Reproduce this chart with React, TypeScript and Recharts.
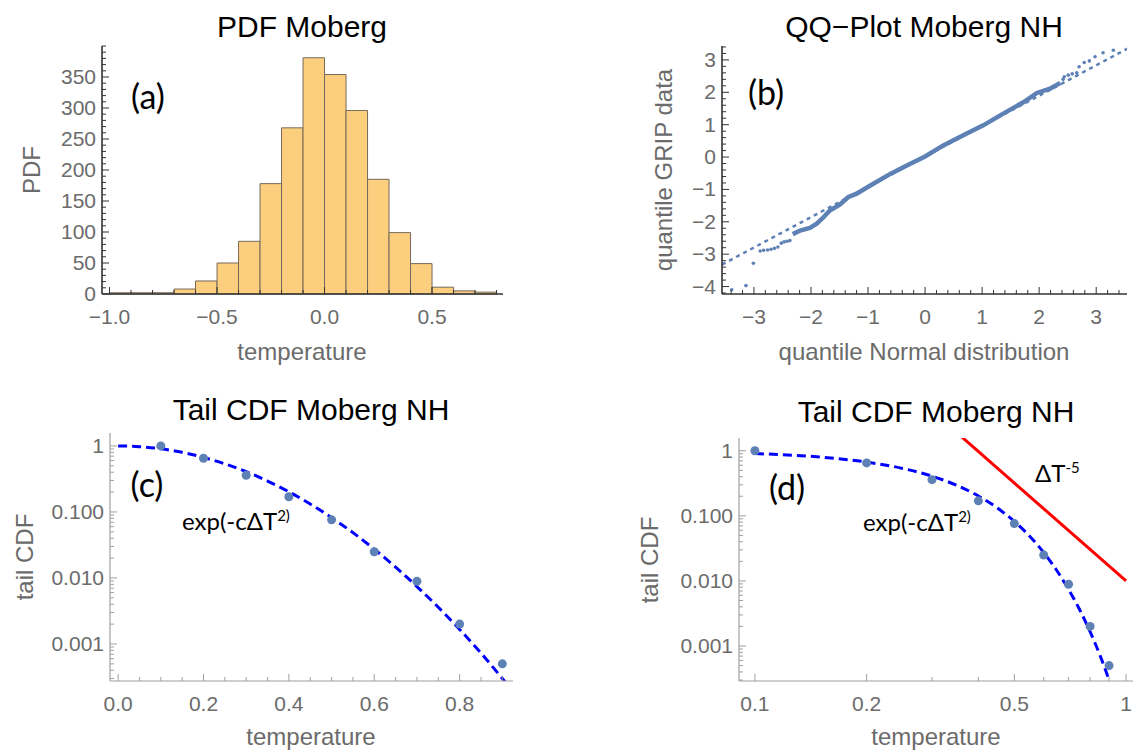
import React from "react";
import {
	ComposedChart,
	Line,
	ReferenceArea,
	Scatter,
	XAxis,
	YAxis,
} from "recharts";

// (a) histogramme : bords gauches des classes et effectifs
const binStarts = [
	-1.0, -0.9, -0.8, -0.7, -0.6, -0.5, -0.4, -0.3, -0.2, -0.1, 0.0, 0.1, 0.2,
	0.3, 0.4, 0.5, 0.6, 0.7,
];
const binCounts = [
	2, 2, 2, 8, 21, 50, 85, 178, 268, 381, 354, 296, 185, 99, 49, 11, 5, 3,
];
const binWidth = 0.1;

// (b) QQ-plot : partie dense, queues, droite de référence
const qqBodyX = [
	-2.32, -2.19, -2.02, -1.9, -1.78, -1.67, -1.49, -1.35, -1.2, -0.96, -0.61,
	-0.32, 0.0, 0.32, 0.67, 1.02, 1.37, 1.73, 1.96, 2.19, 2.37,
];
const qqBodyY = [
	-2.38, -2.27, -2.19, -2.06, -1.86, -1.65, -1.46, -1.24, -1.13, -0.88, -0.52,
	-0.26, 0.02, 0.36, 0.67, 0.98, 1.34, 1.7, 1.98, 2.11, 2.29,
];
const qqTailX = [
	-3.39, -3.14, -3.01, -2.89, -2.83, -2.76, -2.7, -2.64, -2.58, -2.52, -2.47,
	-2.42, -2.37, 2.42, 2.44, 2.51, 2.58, 2.66, 2.7, 2.79, 2.88, 2.98, 3.12, 3.3,
];
const qqTailY = [
	-4.1, -3.97, -3.28, -2.9, -2.88, -2.87, -2.85, -2.82, -2.78, -2.66, -2.62,
	-2.6, -2.58, 2.4, 2.48, 2.53, 2.57, 2.6, 2.79, 2.92, 2.97, 3.1, 3.22, 3.3,
];
const qqRefX = [-3.56, 3.56];
const qqRefY = [-3.32, 3.36];

// (c)/(d) CDF de queue
const tailT = [0.1, 0.2, 0.3, 0.4, 0.5, 0.6, 0.7, 0.8, 0.9];
const tailCdf = [1.0, 0.65, 0.36, 0.17, 0.076, 0.025, 0.0089, 0.002, 0.0005];
const fitT = [
	0, 0.05, 0.1, 0.15, 0.2, 0.25, 0.3, 0.35, 0.4, 0.45, 0.5, 0.55, 0.6, 0.65,
	0.7, 0.75, 0.8, 0.85, 0.9, 0.92,
];
const fitCdf = [
	1.0, 0.975, 0.905, 0.8, 0.67, 0.535, 0.407, 0.294, 0.202, 0.132, 0.082,
	0.0486, 0.0273, 0.0146, 0.0074, 0.0036, 0.00166, 0.00073, 0.0003, 0.00021,
];
const powT = [0.35, 1.0];
const powCdf = [1.9, 0.01];

// graduations
const aXTicks = [-1.0, -0.5, 0.0, 0.5];
const aYTicks = [0, 50, 100, 150, 200, 250, 300, 350];
const bXTicks = [-3, -2, -1, 0, 1, 2, 3];
const bYTicks = [-4, -3, -2, -1, 0, 1, 2, 3];
const cXTicks = [0.0, 0.2, 0.4, 0.6, 0.8];
const logYTicks = [0.001, 0.01, 0.1, 1];
const dXTicks = [0.1, 0.2, 0.5, 1];

const range = (a: number, b: number, s: number) => {
	const out: number[] = [];
	for (let v = a; v <= b + s / 1000; v += s) out.push(Math.round(v / s) * s);
	return out;
};
const decadeMinor = (from: number, to: number) => {
	const out: number[] = [];
	for (let e = -5; e <= 1; e++) {
		for (let k = 1; k <= 9; k++) {
			const v = parseFloat((k * Math.pow(10, e)).toPrecision(3));
			if (v >= from && v <= to) out.push(v);
		}
	}
	return out;
};

const BLUE = "#5E81B5";
const TICK_FONT = "'Liberation Sans', Arial, sans-serif";
const LABEL_GREY = "#6b6b6b";
const TICK_SIZE = 21;

const toPts = (xs: number[], ys: number[]) =>
	xs.map((x, i) => ({ x, y: ys[i] }));

const minus = (s: string) => s.replace("-", "\u2212");

type Side = "bottom" | "left" | "top" | "right";

const isIn = (list: number[], v: number) =>
	list.some((m) => Math.abs(m - v) <= 1e-9 + 1e-6 * Math.abs(m));

function tickRenderer(
	side: Side,
	majors: number[],
	color: string,
	fmt?: (v: number) => string,
) {
	return (props: any) => {
		const { x, y, payload } = props;
		const v = Number(payload.value);
		const major = isIn(majors, v);
		const len = major ? 7 : 4;
		let line;
		if (side === "bottom") line = <line x1={x} x2={x} y1={y} y2={y - len} />;
		else if (side === "top") line = <line x1={x} x2={x} y1={y} y2={y + len} />;
		else if (side === "left") line = <line x1={x} x2={x + len} y1={y} y2={y} />;
		else line = <line x1={x} x2={x - len} y1={y} y2={y} />;
		return (
			<g>
				<g stroke={color} strokeWidth={1}>
					{line}
				</g>
				{major && fmt && side === "bottom" && (
					<text
						x={x}
						y={y + 30}
						textAnchor="middle"
						fill={LABEL_GREY}
						fontSize={TICK_SIZE}
						fontFamily={TICK_FONT}
					>
						{fmt(v)}
					</text>
				)}
				{major && fmt && side === "left" && (
					<text
						x={x - 6}
						y={y + 7}
						textAnchor="end"
						fill={LABEL_GREY}
						fontSize={TICK_SIZE}
						fontFamily={TICK_FONT}
					>
						{fmt(v)}
					</text>
				)}
			</g>
		);
	};
}

interface FrameSpec {
	xDomain: [number, number];
	yDomain: [number, number];
	xScale: "linear" | "log";
	yScale: "linear" | "log";
	xMajor: number[];
	xAll: number[];
	yMajor: number[];
	yAll: number[];
	color: string;
	width: number;
	xFmt: (v: number) => string;
	yFmt: (v: number) => string;
}

function frameAxes(f: FrameSpec) {
	const common = {
		type: "number" as const,
		allowDataOverflow: true,
		interval: 0 as const,
		tickSize: 0,
		tickMargin: 0,
		tickLine: false,
		axisLine: { stroke: f.color, strokeWidth: f.width },
	};
	return [
		<XAxis
			key="xb"
			xAxisId="b"
			dataKey="x"
			orientation="bottom"
			height={50}
			domain={f.xDomain}
			scale={f.xScale}
			ticks={f.xAll}
			tick={tickRenderer("bottom", f.xMajor, f.color, f.xFmt)}
			{...common}
		/>,
		<XAxis
			key="xt"
			xAxisId="t"
			dataKey="x"
			orientation="top"
			height={0}
			domain={f.xDomain}
			scale={f.xScale}
			ticks={f.xAll}
			tick={tickRenderer("top", f.xMajor, f.color)}
			{...common}
		/>,
		<YAxis
			key="yl"
			yAxisId="l"
			dataKey="y"
			orientation="left"
			width={90}
			domain={f.yDomain}
			scale={f.yScale}
			ticks={f.yAll}
			tick={tickRenderer("left", f.yMajor, f.color, f.yFmt)}
			{...common}
		/>,
		<YAxis
			key="yr"
			yAxisId="r"
			dataKey="y"
			orientation="right"
			width={0}
			domain={f.yDomain}
			scale={f.yScale}
			ticks={f.yAll}
			tick={tickRenderer("right", f.yMajor, f.color)}
			{...common}
		/>,
	];
}

interface Box {
	l: number;
	t: number;
	r: number;
	b: number;
}

const chartPos = (bx: Box) => ({
	style: {
		position: "absolute" as const,
		left: bx.l - 90,
		top: bx.t - 10,
	},
	width: bx.r - bx.l + 92,
	height: bx.b - bx.t + 60,
	margin: { top: 10, right: 2, left: 0, bottom: 0 },
});

const boxA: Box = { l: 102, t: 46, r: 503, b: 294 };
const boxB: Box = { l: 722, t: 46, r: 1127, b: 294 };
const boxC: Box = { l: 110, t: 433, r: 513, b: 681 };
const boxD: Box = { l: 739, t: 438, r: 1133, b: 681 };

const logLabel = (v: number) => (v >= 1 ? "1" : v.toFixed(3));

function Txt({
	x,
	y,
	size,
	color = "#000",
	font = TICK_FONT,
	rotate = false,
	anchor = "center",
	children,
}: {
	x: number;
	y: number;
	size: number;
	color?: string;
	font?: string;
	rotate?: boolean;
	anchor?: "center" | "left";
	children: React.ReactNode;
}) {
	const tx = anchor === "center" ? "-50%" : "0";
	return (
		<div
			style={{
				position: "absolute",
				left: x,
				top: y,
				transform: `translate(${tx}, -50%)${rotate ? " rotate(-90deg)" : ""}`,
				fontSize: size,
				fontFamily: font,
				color,
				whiteSpace: "nowrap",
				lineHeight: 1,
			}}
		>
			{children}
		</div>
	);
}

const LATO = "Lato, 'Open Sans', sans-serif";
const SUP = { fontSize: 15 };

export default function App() {
	const cA = chartPos(boxA);
	const cB = chartPos(boxB);
	const cC = chartPos(boxC);
	const cD = chartPos(boxD);

	const fitPts = toPts(fitT, fitCdf);
	const fitPtsD = fitPts.filter((p) => p.x >= 0.1);

	return (
		<div
			style={{
				position: "absolute",
				left: 0,
				top: 0,
				width: 1135,
				height: 751,
				background: "#fff",
				overflow: "hidden",
			}}
		>
			{/* (a) PDF */}
			<div style={cA.style}>
				<ComposedChart width={cA.width} height={cA.height} margin={cA.margin}>
					{frameAxes({
						xDomain: [-1.035, 0.83],
						yDomain: [0, 400],
						xScale: "linear",
						yScale: "linear",
						xMajor: aXTicks,
						xAll: range(-1.0, 0.8, 0.1),
						yMajor: aYTicks,
						yAll: range(0, 400, 10),
						color: "#333",
						width: 1.6,
						xFmt: (v) => minus(v.toFixed(1)),
						yFmt: (v) => String(v),
					})}
					{binStarts.map((s, i) => (
						<ReferenceArea
							key={i}
							xAxisId="b"
							yAxisId="l"
							x1={s}
							x2={s + binWidth}
							y1={0}
							y2={binCounts[i]}
							fill="#FCCF7F"
							fillOpacity={1}
							stroke="#76695a"
							strokeWidth={1}
							strokeOpacity={1}
						/>
					))}
				</ComposedChart>
			</div>

			{/* (b) QQ */}
			<div style={cB.style}>
				<ComposedChart width={cB.width} height={cB.height} margin={cB.margin}>
					{frameAxes({
						xDomain: [-3.56, 3.54],
						yDomain: [-4.23, 3.43],
						xScale: "linear",
						yScale: "linear",
						xMajor: bXTicks,
						xAll: range(-3.4, 3.4, 0.2),
						yMajor: bYTicks,
						yAll: range(-4.2, 3.4, 0.2),
						color: "#333",
						width: 1.6,
						xFmt: (v) => minus(String(v)),
						yFmt: (v) => minus(String(v)),
					})}
					<Line
						xAxisId="b"
						yAxisId="l"
						data={toPts(qqRefX, qqRefY)}
						dataKey="y"
						type="linear"
						stroke={BLUE}
						strokeWidth={2.5}
						strokeDasharray="4 4"
						dot={false}
						isAnimationActive={false}
					/>
					<Line
						xAxisId="b"
						yAxisId="l"
						data={toPts(qqBodyX, qqBodyY)}
						dataKey="y"
						type="linear"
						stroke={BLUE}
						strokeWidth={4.5}
						dot={false}
						isAnimationActive={false}
					/>
					<Scatter
						xAxisId="b"
						yAxisId="l"
						data={toPts(qqTailX, qqTailY)}
						dataKey="y"
						fill={BLUE}
						shape={(p: any) => (
							<circle cx={p.cx} cy={p.cy} r={1.8} fill={BLUE} />
						)}
						isAnimationActive={false}
					/>
				</ComposedChart>
			</div>

			{/* (c) tail CDF, lin-log */}
			<div style={cC.style}>
				<ComposedChart width={cC.width} height={cC.height} margin={cC.margin}>
					{frameAxes({
						xDomain: [-0.019, 0.925],
						yDomain: [2.75e-4, 1.57],
						xScale: "linear",
						yScale: "log",
						xMajor: cXTicks,
						xAll: range(0, 0.9, 0.05),
						yMajor: logYTicks,
						yAll: decadeMinor(2.75e-4, 1.57),
						color: "#a0a0a0",
						width: 1.2,
						xFmt: (v) => v.toFixed(1),
						yFmt: logLabel,
					})}
					<Line
						xAxisId="b"
						yAxisId="l"
						data={fitPts}
						dataKey="y"
						type="monotone"
						stroke="#0000ff"
						strokeWidth={3}
						strokeDasharray="9 5"
						dot={false}
						isAnimationActive={false}
					/>
					<Scatter
						xAxisId="b"
						yAxisId="l"
						data={toPts(tailT, tailCdf)}
						dataKey="y"
						fill={BLUE}
						shape={(p: any) => (
							<circle cx={p.cx} cy={p.cy} r={4.5} fill={BLUE} />
						)}
						isAnimationActive={false}
					/>
				</ComposedChart>
			</div>

			{/* (d) tail CDF, log-log */}
			<div style={cD.style}>
				<ComposedChart width={cD.width} height={cD.height} margin={cD.margin}>
					{frameAxes({
						xDomain: [0.0906, 1.044],
						yDomain: [2.9e-4, 1.57],
						xScale: "log",
						yScale: "log",
						xMajor: dXTicks,
						xAll: decadeMinor(0.0906, 1.044),
						yMajor: logYTicks,
						yAll: decadeMinor(2.9e-4, 1.57),
						color: "#a0a0a0",
						width: 1.2,
						xFmt: (v) => String(v),
						yFmt: logLabel,
					})}
					<Line
						xAxisId="b"
						yAxisId="l"
						data={toPts(powT, powCdf)}
						dataKey="y"
						type="linear"
						stroke="#ff0000"
						strokeWidth={3}
						dot={false}
						isAnimationActive={false}
					/>
					<Line
						xAxisId="b"
						yAxisId="l"
						data={fitPtsD}
						dataKey="y"
						type="monotone"
						stroke="#0000ff"
						strokeWidth={3}
						strokeDasharray="9 5"
						dot={false}
						isAnimationActive={false}
					/>
					<Scatter
						xAxisId="b"
						yAxisId="l"
						data={toPts(tailT, tailCdf)}
						dataKey="y"
						fill={BLUE}
						shape={(p: any) => (
							<circle cx={p.cx} cy={p.cy} r={4.5} fill={BLUE} />
						)}
						isAnimationActive={false}
					/>
				</ComposedChart>
			</div>

			{/* titres */}
			<Txt x={302} y={27} size={30}>
				PDF Moberg
			</Txt>
			<Txt x={924} y={27} size={30}>
				QQ−Plot Moberg NH
			</Txt>
			<Txt x={311} y={410} size={30}>
				Tail CDF Moberg NH
			</Txt>
			<Txt x={936} y={412} size={30}>
				Tail CDF Moberg NH
			</Txt>

			{/* libellés d'axes */}
			<Txt x={32} y={170} size={24} color={LABEL_GREY} rotate>
				PDF
			</Txt>
			<Txt x={302} y={352} size={24} color={LABEL_GREY}>
				temperature
			</Txt>
			<Txt x={664} y={170} size={24} color={LABEL_GREY} rotate>
				quantile GRIP data
			</Txt>
			<Txt x={924} y={352} size={24} color={LABEL_GREY}>
				quantile Normal distribution
			</Txt>
			<Txt x={25} y={557} size={24} color={LABEL_GREY} rotate>
				tail CDF
			</Txt>
			<Txt x={311} y={737} size={24} color={LABEL_GREY}>
				temperature
			</Txt>
			<Txt x={650} y={560} size={24} color={LABEL_GREY} rotate>
				tail CDF
			</Txt>
			<Txt x={936} y={737} size={24} color={LABEL_GREY}>
				temperature
			</Txt>

			{/* lettres et annotations */}
			<Txt x={148} y={96} size={34} font={LATO}>
				(a)
			</Txt>
			<Txt x={766} y={92} size={34} font={LATO}>
				(b)
			</Txt>
			<Txt x={147} y={484} size={34} font={LATO}>
				(c)
			</Txt>
			<Txt x={787} y={487} size={34} font={LATO}>
				(d)
			</Txt>
			<Txt x={182} y={520} size={24} font={LATO} anchor="left">
				exp(-cΔT<sup style={SUP}>2)</sup>
			</Txt>
			<Txt x={863} y={521} size={24} font={LATO} anchor="left">
				exp(-cΔT<sup style={SUP}>2)</sup>
			</Txt>
			<Txt x={1035} y={472} size={24} font={LATO} anchor="left">
				ΔT<sup style={SUP}>-5</sup>
			</Txt>
		</div>
	);
}
